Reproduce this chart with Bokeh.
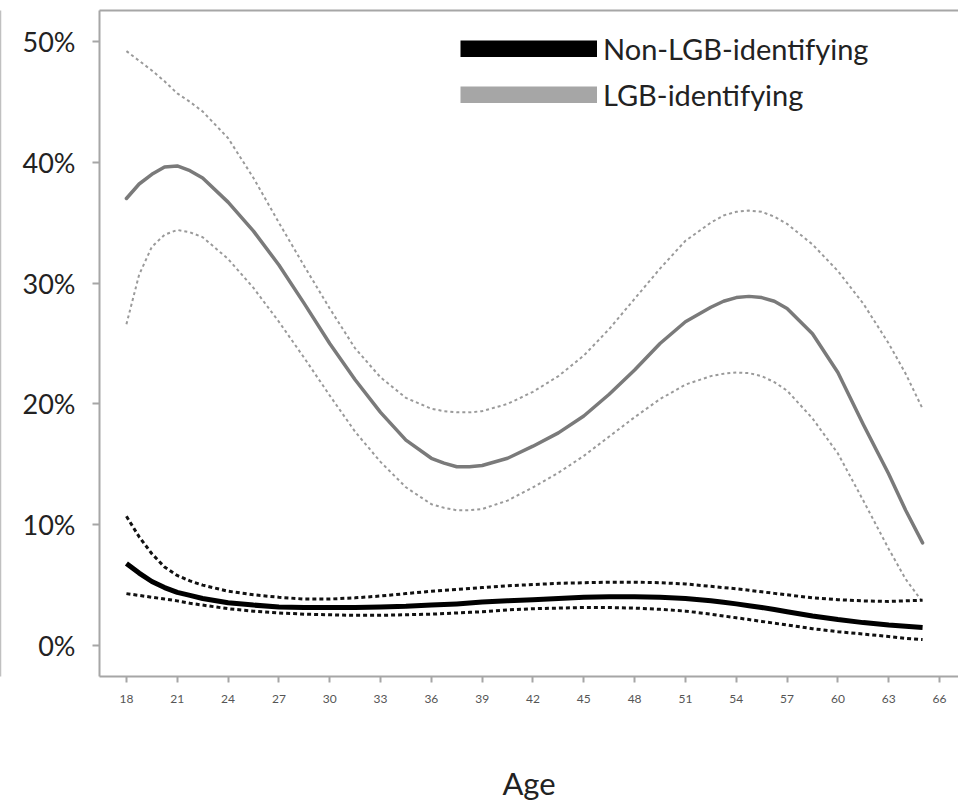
from bokeh.plotting import figure
from bokeh.models import (Range1d, FixedTicker, LinearAxis, Legend, LegendItem,
                          ColumnDataSource)
from bokeh.embed import file_html
from bokeh.resources import INLINE

# ---------------- data ----------------
ages = [18, 18.75, 19.5, 20.25, 21, 21.75, 22.5, 24, 25.5, 27,
        28.5, 30, 31.5, 33, 34.5, 36, 36.75, 37.5, 38.25, 39,
        40.5, 42, 43.5, 45, 46.5, 48, 49.5, 51, 52.5, 53.25,
        54, 54.75, 55.5, 56.25, 57, 58.5, 60, 61.5, 63, 64, 65]

lgb_est = [37.0, 38.2, 39.0, 39.6, 39.7, 39.3, 38.7, 36.7, 34.3, 31.5,
           28.3, 25.0, 22.0, 19.3, 17.0, 15.5, 15.1, 14.8, 14.8, 14.9,
           15.5, 16.5, 17.6, 19.0, 20.8, 22.8, 25.0, 26.8, 28.0, 28.5,
           28.8, 28.9, 28.8, 28.5, 27.9, 25.8, 22.6, 18.3, 14.2, 11.2, 8.5]
lgb_upper = [49.2, 48.4, 47.6, 46.7, 45.7, 45.0, 44.2, 42.0, 38.7, 35.0,
             31.4, 27.9, 24.6, 22.2, 20.5, 19.6, 19.4, 19.3, 19.3, 19.4,
             20.0, 21.0, 22.3, 24.0, 26.2, 28.7, 31.2, 33.5, 35.0, 35.6,
             35.9, 36.0, 35.9, 35.5, 34.9, 33.2, 31.0, 28.3, 25.0, 22.5, 19.6]
lgb_lower = [26.6, 30.7, 33.0, 34.0, 34.4, 34.2, 33.8, 32.0, 29.6, 26.8,
             23.8, 20.7, 17.7, 15.2, 13.1, 11.7, 11.4, 11.2, 11.2, 11.3,
             12.0, 13.1, 14.3, 15.7, 17.3, 18.9, 20.4, 21.6, 22.3, 22.5,
             22.6, 22.55, 22.3, 21.8, 21.1, 18.8, 15.9, 12.0, 8.0, 5.5, 3.6]

non_est = [6.8, 6.0, 5.3, 4.8, 4.4, 4.15, 3.9, 3.55, 3.35, 3.2,
           3.15, 3.15, 3.15, 3.2, 3.25, 3.35, 3.4, 3.45, 3.52, 3.6,
           3.7, 3.8, 3.9, 4.0, 4.05, 4.05, 4.0, 3.9, 3.7, 3.58,
           3.45, 3.3, 3.15, 2.98, 2.8, 2.45, 2.15, 1.9, 1.7, 1.6, 1.5]
non_upper = [10.7, 9.0, 7.6, 6.5, 5.8, 5.35, 5.0, 4.5, 4.2, 4.0,
             3.85, 3.85, 3.95, 4.1, 4.3, 4.5, 4.58, 4.65, 4.72, 4.8,
             4.95, 5.05, 5.15, 5.2, 5.25, 5.25, 5.2, 5.1, 4.9, 4.8,
             4.7, 4.58, 4.45, 4.32, 4.2, 3.95, 3.8, 3.7, 3.65, 3.7, 3.75]
non_lower = [4.3, 4.15, 4.0, 3.85, 3.7, 3.5, 3.35, 3.05, 2.85, 2.7,
             2.6, 2.55, 2.5, 2.5, 2.55, 2.6, 2.65, 2.7, 2.75, 2.8,
             2.95, 3.05, 3.1, 3.15, 3.15, 3.1, 3.0, 2.85, 2.6, 2.45,
             2.3, 2.15, 2.0, 1.85, 1.7, 1.4, 1.15, 0.95, 0.75, 0.6, 0.5]

x_ticks = [18, 21, 24, 27, 30, 33, 36, 39, 42, 45, 48, 51, 54, 57, 60, 63, 66]
y_ticks = [0, 10, 20, 30, 40, 50]
y_tick_labels = ["0%", "10%", "20%", "30%", "40%", "50%"]
series_names = ["Non-LGB-identifying", "LGB-identifying"]
x_title = "Age"

# ---------------- figure ----------------
FONT = "Lato"
FRAME = "#a6a6a6"
NAN = float("nan")

p = figure(width=958, height=804, output_backend="svg", toolbar_location=None,
           x_range=Range1d(16.41, 67.12), y_range=Range1d(-2.56, 52.56),
           min_border_left=99, min_border_right=0, min_border_top=10,
           min_border_bottom=127, y_axis_location=None, x_axis_location=None)
p.outline_line_color = None
p.grid.visible = False
p.background_fill_color = "white"
p.border_fill_color = "white"

src = ColumnDataSource(dict(age=ages, lgb=lgb_est, lgb_u=lgb_upper, lgb_l=lgb_lower,
                            non=non_est, non_u=non_upper, non_l=non_lower))

# LGB confidence bands (grey dotted)
p.line("age", "lgb_u", source=src, line_color="#9a9a9a", line_width=2,
       line_dash="3 3", line_join="round")
p.line("age", "lgb_l", source=src, line_color="#9a9a9a", line_width=2,
       line_dash="3 3", line_join="round")
p.line("age", "lgb", source=src, line_color="#7a7a7a", line_width=3.5,
       line_join="round", line_cap="round")

# Non-LGB confidence bands (black dashed)
p.line("age", "non_u", source=src, line_color="#111111", line_width=3,
       line_dash="4 3", line_join="round")
p.line("age", "non_l", source=src, line_color="#111111", line_width=3,
       line_dash="4 3", line_join="round")
p.line("age", "non", source=src, line_color="black", line_width=5,
       line_join="round")

# legend proxies (thick bars, no visible data)
leg_non = p.line([NAN], [NAN], line_color="black", line_width=17)
leg_lgb = p.line([NAN], [NAN], line_color="#a6a6a6", line_width=17)
legend = Legend(items=[LegendItem(label=series_names[0], renderers=[leg_non]),
                       LegendItem(label=series_names[1], renderers=[leg_lgb])],
                location=(361, 564), orientation="vertical",
                glyph_width=137, glyph_height=17, label_standoff=6,
                label_text_font=FONT, label_text_font_size="29px",
                label_text_color="#222222", spacing=10, padding=0, margin=0,
                border_line_color=None, background_fill_alpha=0,
                label_height=36)
p.add_layout(legend, "center")

# y axis
yax = LinearAxis(ticker=FixedTicker(ticks=y_ticks),
                 major_label_overrides={t: l for t, l in zip(y_ticks, y_tick_labels)},
                 axis_label="\u00a0")
yax.axis_line_color = FRAME
yax.axis_line_width = 2
yax.major_tick_line_color = FRAME
yax.major_tick_line_width = 2
yax.major_tick_out = 7
yax.major_tick_in = 0
yax.minor_tick_line_color = None
yax.major_label_text_font = FONT
yax.major_label_text_font_size = "27px"
yax.major_label_text_color = "#222222"
yax.major_label_standoff = 17
yax.axis_label_text_font_size = "10px"
yax.axis_label_standoff = 5
p.add_layout(yax, "left")

# outer thin frame line at the far left
outer = LinearAxis(ticker=FixedTicker(ticks=[]))
outer.axis_line_color = "#c0c0c0"
outer.axis_line_width = 1.5
outer.major_tick_line_color = None
outer.minor_tick_line_color = None
outer.major_label_text_font_size = "0px"
outer.major_label_standoff = 0
p.add_layout(outer, "left")

# x axis
xax = LinearAxis(ticker=FixedTicker(ticks=x_ticks), axis_label=x_title)
xax.axis_line_color = FRAME
xax.axis_line_width = 2
xax.major_tick_line_color = FRAME
xax.major_tick_line_width = 2
xax.major_tick_out = 6
xax.major_tick_in = 0
xax.minor_tick_line_color = None
xax.major_label_text_font = FONT
xax.major_label_text_font_size = "12px"
xax.major_label_text_color = "#555555"
xax.major_label_standoff = 12
xax.axis_label_text_font = FONT
xax.axis_label_text_font_size = "31px"
xax.axis_label_text_font_style = "normal"
xax.axis_label_text_color = "#222222"
xax.axis_label_standoff = 58
p.add_layout(xax, "below")

# top frame line
top = LinearAxis(ticker=FixedTicker(ticks=[]))
top.axis_line_color = FRAME
top.axis_line_width = 2
top.major_tick_line_color = None
top.minor_tick_line_color = None
top.major_label_text_font_size = "0px"
top.major_label_standoff = 0
p.add_layout(top, "above")

open("out.html", "w").write(file_html(p, INLINE))
